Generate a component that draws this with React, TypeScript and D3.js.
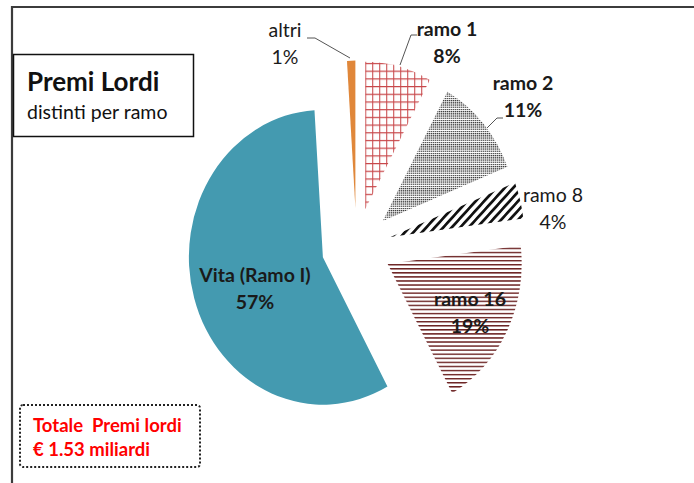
import React from "react";
import * as d3 from "d3";

// slice data, clockwise from 12 o'clock
const categories = ["ramo 1", "ramo 2", "ramo 8", "ramo 16", "Vita (Ramo I)", "altri"];
const values = [8, 11, 4, 19, 57, 1];
const boldLabels = ["ramo 1", "ramo 2", "ramo 16", "Vita (Ramo I)"];

const titleLines = ["Premi Lordi", "distinti per ramo"];
const totalLines = ["Totale  Premi lordi", "€ 1.53 miliardi"];

// label placement (centre x, first baseline) and leader lines
const labelPos: Record<string, [number, number]> = {
  "ramo 1": [447, 36],
  "ramo 2": [523, 90],
  "ramo 8": [553, 202],
  "ramo 16": [470, 306],
  "Vita (Ramo I)": [255, 282],
  altri: [285, 37],
};
const leaders: Record<string, [number, number][]> = {
  altri: [[307, 38], [315, 38], [350, 58]],
  "ramo 1": [[417, 35], [411, 35], [400, 65]],
  "ramo 2": [[503, 118], [497, 118], [487, 128]],
};

const FONT = "Lato, 'Open Sans', sans-serif";
const W = 694;
const H = 483;
const cx = 356.5;
const cy = 246.5;
const radius = 134;
const yStretch = 1.1;
const explode = 35;

const fills: Record<string, string> = {
  "ramo 1": "url(#grid)",
  "ramo 2": "url(#dots)",
  "ramo 8": "url(#diag)",
  "ramo 16": "url(#hlines)",
  "Vita (Ramo I)": "#449AB0",
  altri: "#E0873A",
};

const App = () => {
  const pie = d3
    .pie<number>()
    .sort(null)
    .value((d) => d);
  const arcs = pie(values);
  const arc = d3.arc<d3.PieArcDatum<number>>().innerRadius(0).outerRadius(radius);

  return (
    <svg
      width={W}
      height={H}
      style={{ position: "absolute", left: 0, top: 0, background: "#fff" }}
      fontFamily={FONT}
    >
      <defs>
        <pattern id="grid" width={7} height={7} patternUnits="userSpaceOnUse">
          <rect width={7} height={7} fill="#fff" />
          <path d="M0.5,0V7M0,0.5H7" stroke="#C8474A" strokeWidth={1.1} />
        </pattern>
        <pattern id="dots" width={2} height={2} patternUnits="userSpaceOnUse">
          <rect width={2} height={2} fill="#fff" />
          <rect width={1.1} height={1.1} fill="#000" />
        </pattern>
        <pattern id="diag" width={6} height={6} patternUnits="userSpaceOnUse" patternTransform="rotate(45)">
          <rect width={6} height={6} fill="#fff" />
          <rect width={2.6} height={6} fill="#111" />
        </pattern>
        <pattern id="hlines" width={4} height={3.7} patternUnits="userSpaceOnUse">
          <rect width={4} height={3.7} fill="#fff" />
          <rect width={4} height={1.3} fill="#6A2020" />
        </pattern>
      </defs>

      {/* outer frame */}
      <path d={`M12,${H}V7H${W}`} fill="none" stroke="#3c3c3c" strokeWidth={2.2} />

      {/* exploded pie */}
      <g transform={`translate(${cx},${cy}) scale(1,${yStretch})`}>
        {arcs.map((a, i) => {
          const mid = (a.startAngle + a.endAngle) / 2;
          const dx = explode * Math.sin(mid);
          const dy = -explode * Math.cos(mid);
          return (
            <path
              key={categories[i]}
              d={arc(a) || ""}
              transform={`translate(${dx},${dy})`}
              fill={fills[categories[i]]}
            />
          );
        })}
      </g>

      {/* leader lines */}
      {Object.keys(leaders).map((k) => (
        <polyline
          key={k}
          points={leaders[k].map((p) => p.join(",")).join(" ")}
          fill="none"
          stroke="#555"
          strokeWidth={1}
        />
      ))}

      {/* data labels */}
      {categories.map((c, i) => {
        const [x, y] = labelPos[c];
        const bold = boldLabels.includes(c);
        return (
          <text
            key={c}
            x={x}
            y={y}
            textAnchor="middle"
            fontSize={19.5}
            fontWeight={bold ? 700 : 400}
            fill="#1a1a1a"
          >
            <tspan x={x}>{c}</tspan>
            <tspan x={x} dy={27}>{`${values[i]}%`}</tspan>
          </text>
        );
      })}

      {/* title box */}
      <rect x={13.5} y={54.5} width={180} height={82} fill="#fff" stroke="#111" strokeWidth={1.5} />
      <text x={27} y={91} fontSize={26} fontWeight={700} fill="#111">
        {titleLines[0]}
      </text>
      <text x={27} y={119} fontSize={19.5} fill="#111">
        {titleLines[1]}
      </text>

      {/* total box */}
      <rect
        x={20}
        y={405}
        width={180}
        height={62}
        rx={3}
        fill="#fff"
        stroke="#222"
        strokeWidth={2}
        strokeDasharray="2 2"
      />
      {totalLines.map((t, i) => (
        <text key={t} x={33} y={432 + i * 24} fontSize={18.5} fontWeight={700} fill="#FF0000" xmlSpace="preserve">
          {t}
        </text>
      ))}
    </svg>
  );
};

export default App;
